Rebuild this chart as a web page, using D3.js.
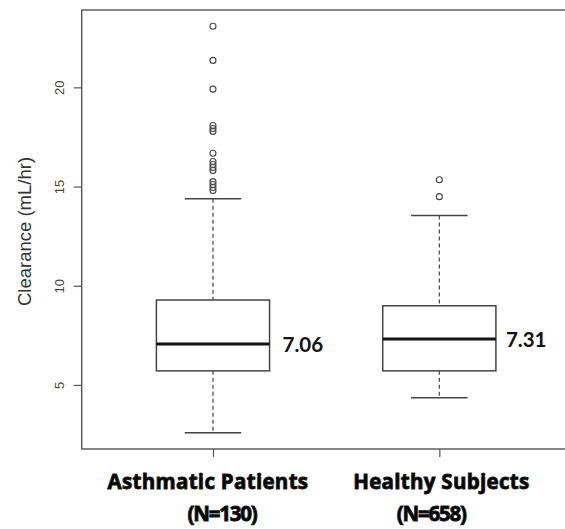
<!DOCTYPE html>
<html>
<head>
<meta charset="utf-8">
<script src="https://cdn.jsdelivr.net/npm/d3@7"></script>
<style>
  html, body { margin: 0; padding: 0; background: #fff; }
  svg { display: block; }
</style>
</head>
<body>
<svg id="chart" width="565" height="529"></svg>
<script>
// Clearance box plot: asthmatic patients vs healthy subjects
const groups = ["Asthmatic Patients", "Healthy Subjects"];
const counts = [130, 658];
const whiskerLow = [2.59, 4.36];
const q1 = [5.71, 5.71];
const medians = [7.06, 7.31];
const q3 = [9.28, 8.99];
const whiskerHigh = [14.38, 13.54];
const outliersAsthmatic = [23.08, 21.36, 19.91, 18.08, 17.93, 17.78, 16.68, 16.26,
                           16.11, 15.96, 15.81, 15.25, 15.10, 14.95, 14.80];
const outliersHealthy = [15.34, 14.49];
const yTicks = [5, 10, 15, 20];

const outliers = [outliersAsthmatic, outliersHealthy];
const stats = groups.map((g, i) => ({
  name: g, n: counts[i], pos: i + 1,
  lo: whiskerLow[i], q1: q1[i], med: medians[i], q3: q3[i], hi: whiskerHigh[i],
  out: outliers[i]
}));

const svg = d3.select("#chart");
const frame = { left: 81.7, top: 10, bottom: 449, right: 570.6 };

// y range padded by 4% either side
const allVals = stats.flatMap(s => [s.lo, s.hi, ...s.out]);
const yMin = d3.min(allVals), yMax = d3.max(allVals);
const pad = (yMax - yMin) * 0.04;
const y = d3.scaleLinear().domain([yMin - pad, yMax + pad]).range([frame.bottom, frame.top]);

// x positions 1..n with 4% padding around [0.5, n + 0.5]
const xlo = 0.5, xhi = groups.length + 0.5, xpad = (xhi - xlo) * 0.04;
const x = d3.scaleLinear().domain([xlo - xpad, xhi + xpad]).range([frame.left, frame.right]);

const boxHalf = 0.25, capHalf = 0.125;
const lineColor = "#444";

// plot frame
svg.append("rect")
  .attr("x", frame.left).attr("y", frame.top)
  .attr("width", frame.right - frame.left).attr("height", frame.bottom - frame.top)
  .attr("fill", "none").attr("stroke", "#555").attr("stroke-width", 1.4);

// y axis
const yAxis = svg.append("g").attr("transform", `translate(${frame.left},0)`)
  .call(d3.axisLeft(y).tickValues(yTicks).tickSize(8).tickFormat(d3.format("d")));
yAxis.select(".domain").remove();
yAxis.selectAll(".tick line").attr("stroke", "#555").attr("stroke-width", 1.2);
yAxis.selectAll(".tick text")
  .attr("x", null).attr("dy", null)
  .attr("transform", "translate(-18,0) rotate(-90)")
  .attr("text-anchor", "middle")
  .attr("fill", "#444")
  .style("font-family", "'Liberation Sans', Arial, sans-serif")
  .style("font-size", "13px");

// x axis ticks at group positions (no labels)
const xAxis = svg.append("g").attr("transform", `translate(0,${frame.bottom})`)
  .call(d3.axisBottom(x).tickValues(stats.map(s => s.pos)).tickSize(8).tickFormat(""));
xAxis.select(".domain").remove();
xAxis.selectAll(".tick line").attr("stroke", "#555").attr("stroke-width", 1.2);

// y axis title
svg.append("text")
  .attr("transform", `translate(31,${(frame.top + frame.bottom) / 2 + 2}) rotate(-90)`)
  .attr("text-anchor", "middle")
  .attr("fill", "#333")
  .style("font-family", "'Liberation Sans', Arial, sans-serif")
  .style("font-size", "18.5px")
  .text("Clearance (mL/hr)");

const g = svg.selectAll("g.box").data(stats).join("g").attr("class", "box");

// whiskers (dashed)
g.append("line")
  .attr("x1", d => x(d.pos)).attr("x2", d => x(d.pos))
  .attr("y1", d => y(d.hi)).attr("y2", d => y(d.q3))
  .attr("stroke", lineColor).attr("stroke-width", 1.2).attr("stroke-dasharray", "4,3");
g.append("line")
  .attr("x1", d => x(d.pos)).attr("x2", d => x(d.pos))
  .attr("y1", d => y(d.q1)).attr("y2", d => y(d.lo))
  .attr("stroke", lineColor).attr("stroke-width", 1.2).attr("stroke-dasharray", "4,3");

// whisker caps
["hi", "lo"].forEach(k => {
  g.append("line")
    .attr("x1", d => x(d.pos - capHalf)).attr("x2", d => x(d.pos + capHalf))
    .attr("y1", d => y(d[k])).attr("y2", d => y(d[k]))
    .attr("stroke", lineColor).attr("stroke-width", 1.5);
});

// boxes
g.append("rect")
  .attr("x", d => x(d.pos - boxHalf))
  .attr("width", d => x(d.pos + boxHalf) - x(d.pos - boxHalf))
  .attr("y", d => y(d.q3))
  .attr("height", d => y(d.q1) - y(d.q3))
  .attr("fill", "#fff").attr("stroke", lineColor).attr("stroke-width", 1.5);

// medians
g.append("line")
  .attr("x1", d => x(d.pos - boxHalf)).attr("x2", d => x(d.pos + boxHalf))
  .attr("y1", d => y(d.med)).attr("y2", d => y(d.med))
  .attr("stroke", "#111").attr("stroke-width", 3);

// outliers
g.selectAll("circle").data(d => d.out.map(v => ({ pos: d.pos, v }))).join("circle")
  .attr("cx", d => x(d.pos)).attr("cy", d => y(d.v)).attr("r", 3)
  .attr("fill", "none").attr("stroke", "#444").attr("stroke-width", 1.1);

// median value labels
g.append("text")
  .attr("x", (d, i) => x(d.pos + boxHalf) + (i === 0 ? 13 : 10))
  .attr("y", d => y(d.med) + 8)
  .attr("fill", "#111")
  .style("font-family", "Lato, 'Open Sans', sans-serif")
  .style("font-weight", "bold")
  .style("font-size", "20.5px")
  .text(d => d.med.toFixed(2));

// group labels with sample size
const labelStyle = sel => sel
  .attr("text-anchor", "middle")
  .attr("fill", "#000")
  .attr("stroke", "#1a1a1a").attr("stroke-width", 0.9)
  .style("font-family", "'Open Sans', Lato, sans-serif")
  .style("font-weight", "bold")
  .style("font-size", "20.5px");

const nameShift = [-5, 2], countShift = [9, -8];
g.append("text").call(labelStyle)
  .attr("x", (d, i) => x(d.pos) + nameShift[i]).attr("y", 489)
  .style("letter-spacing", "0.3px")
  .text(d => d.name);
g.append("text").call(labelStyle)
  .attr("x", (d, i) => x(d.pos) + countShift[i]).attr("y", 521)
  .style("letter-spacing", "-1.2px")
  .text(d => `(N=${d.n})`);
</script>
</body>
</html>
